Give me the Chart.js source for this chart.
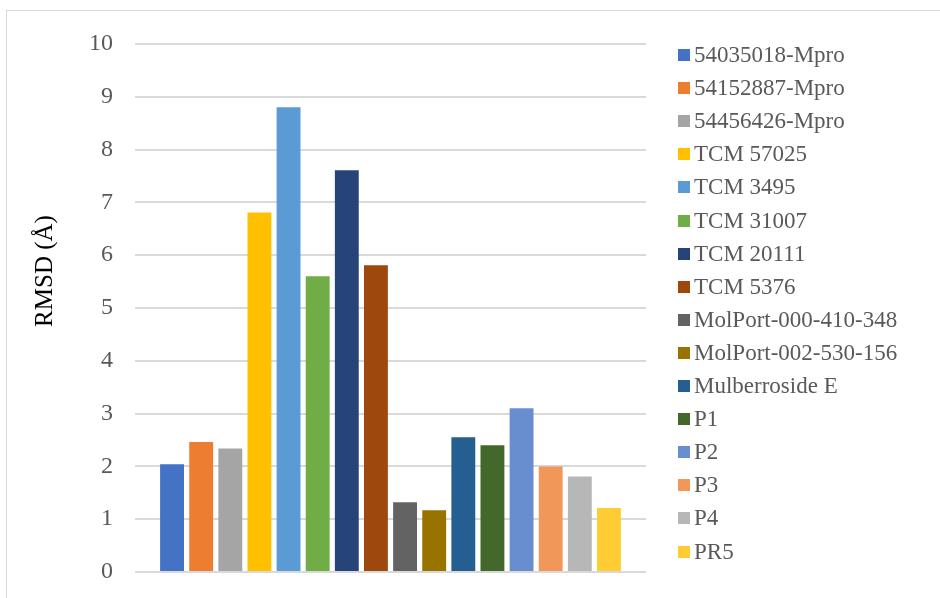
<!DOCTYPE html>
<html>
<head>
<meta charset="utf-8">
<style>
  html, body { margin: 0; padding: 0; background: #ffffff; }
  #wrap { position: relative; width: 940px; height: 598px; }
</style>
<script src="https://cdn.jsdelivr.net/npm/chart.js@4/dist/chart.umd.min.js"></script>
</head>
<body>
<div id="wrap"><canvas id="rmsd" width="940" height="598"></canvas></div>
<script>
// Compounds, one bar each
const compounds = [
  '54035018-Mpro', '54152887-Mpro', '54456426-Mpro',
  'TCM 57025', 'TCM 3495', 'TCM 31007', 'TCM 20111', 'TCM 5376',
  'MolPort-000-410-348', 'MolPort-002-530-156', 'Mulberroside E',
  'P1', 'P2', 'P3', 'P4', 'PR5'
];

// RMSD values (Å)
const rmsdValues = [
  2.04, 2.46, 2.34,
  6.81, 8.80, 5.60, 7.61, 5.81,
  1.32, 1.17, 2.55,
  2.40, 3.10, 2.00, 1.81, 1.21
];

const barColors = [
  '#4472C4', '#ED7D31', '#A5A5A5',
  '#FFC000', '#5B9BD5', '#70AD47', '#264478', '#9E480E',
  '#636363', '#997300', '#255E91',
  '#43682B', '#698ED0', '#F1975A', '#B7B7B7', '#FFCD33'
];

const yTicks = [0, 1, 2, 3, 4, 5, 6, 7, 8, 9, 10];
const yTitle = 'RMSD (Å)';

const serif = '"Liberation Serif", "Times New Roman", serif';
const textGrey = '#595959';

// Every compound is its own series inside a single category
const datasets = compounds.map((name, i) => ({
  label: name,
  data: [rmsdValues[i]],
  backgroundColor: barColors[i],
  borderWidth: 0,
  categoryPercentage: 0.912,
  barPercentage: 0.82
}));

// Thin frame around the whole chart
const framePlugin = {
  id: 'frame',
  beforeDraw(chart) {
    const ctx = chart.ctx;
    ctx.save();
    ctx.fillStyle = '#ffffff';
    ctx.fillRect(0, 0, chart.width, chart.height);
    ctx.strokeStyle = '#d9d9d9';
    ctx.lineWidth = 1;
    ctx.strokeRect(6.5, 10.5, chart.width, chart.height);
    ctx.restore();
  }
};

// Vertical axis title, set a little above the middle of the plot
const axisTitle = {
  id: 'axisTitle',
  afterDraw(chart) {
    const ctx = chart.ctx;
    const area = chart.chartArea;
    ctx.save();
    ctx.translate(area.left - 90, (area.top + area.bottom) / 2 - 37);
    ctx.rotate(-Math.PI / 2);
    ctx.font = '25px ' + serif;
    ctx.fillStyle = '#000000';
    ctx.textAlign = 'center';
    ctx.textBaseline = 'middle';
    ctx.fillText(yTitle, 0, 0);
    ctx.restore();
  }
};

// Legend column on the right, built from the datasets
const sideLegend = {
  id: 'sideLegend',
  afterDraw(chart) {
    const ctx = chart.ctx;
    const area = chart.chartArea;
    const sets = chart.data.datasets;
    const box = 12;
    const step = 33.1;
    const x0 = area.right + 32;
    const total = step * (sets.length - 1) + box;
    const y0 = Math.round(chart.height / 2 - total / 2) + 4;
    ctx.save();
    ctx.font = '23px ' + serif;
    ctx.textBaseline = 'middle';
    ctx.textAlign = 'left';
    sets.forEach((ds, i) => {
      const y = Math.round(y0 + i * step);
      ctx.fillStyle = ds.backgroundColor;
      ctx.fillRect(x0, y, box, box);
      ctx.fillStyle = textGrey;
      ctx.fillText(ds.label, x0 + box + 4, y + box / 2 + 1);
    });
    ctx.restore();
  }
};

new Chart(document.getElementById('rmsd'), {
  type: 'bar',
  data: { labels: [''], datasets },
  options: {
    responsive: false,
    animation: false,
    devicePixelRatio: 1,
    layout: { padding: { left: 6, right: 294, top: 44, bottom: 26 } },
    plugins: {
      legend: { display: false },
      tooltip: { enabled: false }
    },
    scales: {
      x: { display: false },
      y: {
        min: 0,
        max: 10,
        afterBuildTicks(scale) {
          scale.ticks = yTicks.map(v => ({ value: v }));
        },
        afterFit(scale) {
          scale.width = 129;
          // the outer layout padding already leaves room for the end labels
          scale.paddingTop = 0;
          scale.paddingBottom = 0;
        },
        border: { display: false },
        grid: { color: '#d9d9d9', lineWidth: 2, drawTicks: false },
        ticks: {
          padding: 22,
          color: textGrey,
          font: { family: serif, size: 24 }
        },
        title: { display: false }
      }
    }
  },
  plugins: [framePlugin, axisTitle, sideLegend]
});
</script>
</body>
</html>
